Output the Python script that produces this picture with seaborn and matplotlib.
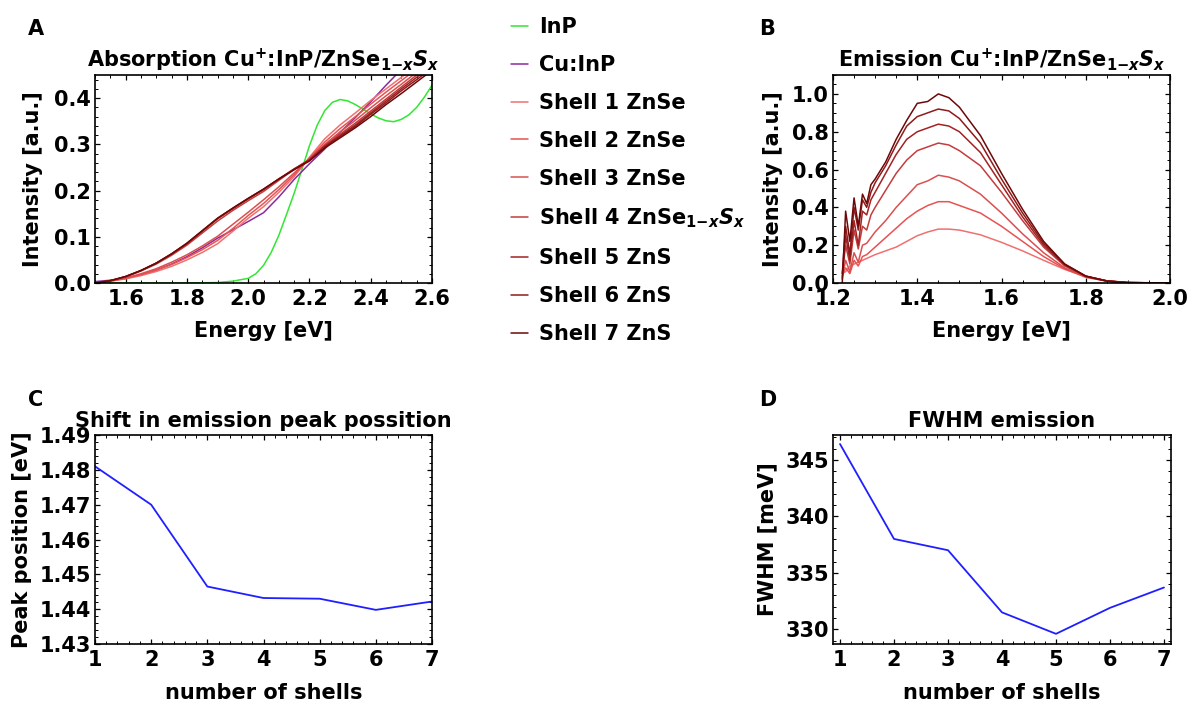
import pandas as pd
import seaborn as sns
import matplotlib.pyplot as plt
from matplotlib.ticker import MultipleLocator

sns.set_theme(style="ticks")
plt.rcParams.update({
    "font.family": ["DejaVu Sans"],
    "font.weight": "bold",
    "text.color": "black",
    "axes.labelcolor": "black",
    "axes.labelweight": "bold",
    "axes.titleweight": "bold",
    "mathtext.fontset": "custom",
    "mathtext.rm": "DejaVu Sans:bold",
    "mathtext.it": "DejaVu Sans:bold:italic",
    "mathtext.bf": "DejaVu Sans:bold",
    "axes.edgecolor": "black",
    "axes.linewidth": 1.2,
    "xtick.color": "black", "ytick.color": "black",
    "xtick.labelcolor": "black", "ytick.labelcolor": "black",
    "xtick.direction": "in", "ytick.direction": "in",
    "xtick.top": True, "ytick.right": True,
    "xtick.major.size": 3.5, "ytick.major.size": 3.5,
    "xtick.minor.size": 2, "ytick.minor.size": 2,
    "xtick.major.width": 0.9, "ytick.major.width": 0.9,
    "xtick.minor.width": 0.7, "ytick.minor.width": 0.7,
    "xtick.labelsize": 15, "ytick.labelsize": 15,
    "xtick.major.pad": 4, "ytick.major.pad": 3,
})

# ---- data ----
labels = ["InP", "Cu:InP", "Shell 1 ZnSe", "Shell 2 ZnSe", "Shell 3 ZnSe",
          r"Shell 4 ZnSe$_{\mathrm{1{-}}x}S_x$", "Shell 5 ZnS", "Shell 6 ZnS", "Shell 7 ZnS"]
inp_color = "#33e633"
cuinp_color = "#8a2b9a"
shell_colors = ["#f07070", "#e85252", "#da5050", "#c43c3c", "#a32222", "#8e1a1a", "#6e0808"]

# absorption
inp_energy = [1.50, 1.60, 1.70, 1.80, 1.90, 1.95, 2.00, 2.025, 2.05, 2.075, 2.10, 2.125, 2.15,
              2.175, 2.20, 2.225, 2.25, 2.275, 2.30, 2.325, 2.35, 2.375, 2.40, 2.425, 2.45,
              2.475, 2.50, 2.525, 2.55, 2.575, 2.60]
inp_abs = [0.000, 0.000, 0.000, 0.000, 0.001, 0.004, 0.010, 0.020, 0.038, 0.066, 0.103, 0.148, 0.194,
           0.245, 0.297, 0.341, 0.373, 0.391, 0.397, 0.394, 0.386, 0.376, 0.366, 0.357, 0.351,
           0.349, 0.354, 0.364, 0.380, 0.402, 0.428]

abs_energy = [1.50, 1.55, 1.60, 1.65, 1.70, 1.75, 1.80, 1.85, 1.90, 1.95, 2.00, 2.05,
              2.10, 2.15, 2.20, 2.25, 2.30, 2.35, 2.40, 2.45, 2.50, 2.55, 2.60]
cuinp_abs = [0.003, 0.006, 0.010, 0.018, 0.028, 0.041, 0.057, 0.076, 0.097, 0.115, 0.133, 0.152,
             0.186, 0.224, 0.258, 0.290, 0.326, 0.358, 0.392, 0.428, 0.462, 0.500, 0.540]
shell1_abs = [0.000, 0.004, 0.009, 0.016, 0.025, 0.036, 0.050, 0.066, 0.085, 0.112, 0.140, 0.165,
              0.196, 0.230, 0.272, 0.312, 0.342, 0.368, 0.395, 0.420, 0.445, 0.470, 0.495]
shell2_abs = [0.000, 0.004, 0.010, 0.018, 0.028, 0.040, 0.055, 0.072, 0.092, 0.118, 0.146, 0.172,
              0.202, 0.234, 0.270, 0.305, 0.334, 0.360, 0.387, 0.413, 0.438, 0.463, 0.488]
shell3_abs = [0.000, 0.005, 0.011, 0.020, 0.031, 0.045, 0.061, 0.080, 0.101, 0.127, 0.153, 0.180,
              0.208, 0.238, 0.268, 0.300, 0.327, 0.352, 0.379, 0.405, 0.430, 0.456, 0.482]
shell4_abs = [0.000, 0.005, 0.013, 0.026, 0.041, 0.060, 0.082, 0.108, 0.134, 0.157, 0.178, 0.198,
              0.222, 0.246, 0.268, 0.298, 0.322, 0.346, 0.372, 0.398, 0.424, 0.450, 0.476]
shell5_abs = [0.000, 0.005, 0.014, 0.027, 0.043, 0.063, 0.085, 0.112, 0.139, 0.161, 0.182, 0.202,
              0.225, 0.247, 0.266, 0.296, 0.319, 0.342, 0.368, 0.394, 0.420, 0.445, 0.470]
shell6_abs = [0.000, 0.005, 0.014, 0.027, 0.043, 0.063, 0.086, 0.113, 0.140, 0.162, 0.183, 0.203,
              0.225, 0.246, 0.265, 0.294, 0.317, 0.339, 0.365, 0.390, 0.416, 0.440, 0.465]
shell7_abs = [0.000, 0.005, 0.014, 0.027, 0.043, 0.063, 0.086, 0.113, 0.140, 0.162, 0.183, 0.203,
              0.225, 0.245, 0.264, 0.292, 0.314, 0.336, 0.360, 0.386, 0.410, 0.435, 0.460]

# emission
em_energy = [1.222, 1.23, 1.24, 1.25, 1.26, 1.27, 1.28, 1.29, 1.30, 1.325, 1.35, 1.375, 1.40,
             1.425, 1.45, 1.475, 1.50, 1.55, 1.60, 1.65, 1.70, 1.75, 1.80, 1.85, 1.90, 2.00]
shell1_em = [0.05, 0.06, 0.09, 0.10, 0.11, 0.12, 0.13, 0.14, 0.15, 0.17, 0.19, 0.22, 0.25,
             0.27, 0.285, 0.285, 0.28, 0.255, 0.215, 0.17, 0.12, 0.072, 0.035, 0.012, 0.003, 0.0]
shell2_em = [0.04, 0.08, 0.05, 0.12, 0.09, 0.14, 0.15, 0.17, 0.19, 0.24, 0.29, 0.34, 0.38,
             0.41, 0.43, 0.43, 0.41, 0.37, 0.30, 0.22, 0.14, 0.075, 0.03, 0.01, 0.002, 0.0]
shell3_em = [0.03, 0.12, 0.06, 0.16, 0.11, 0.20, 0.21, 0.24, 0.27, 0.33, 0.40, 0.46, 0.52,
             0.54, 0.57, 0.56, 0.54, 0.47, 0.37, 0.26, 0.16, 0.08, 0.032, 0.010, 0.002, 0.0]
shell4_em = [0.05, 0.20, 0.10, 0.28, 0.18, 0.30, 0.28, 0.36, 0.40, 0.49, 0.58, 0.65, 0.70,
             0.72, 0.74, 0.73, 0.70, 0.62, 0.48, 0.33, 0.19, 0.09, 0.035, 0.011, 0.002, 0.0]
shell5_em = [0.02, 0.25, 0.12, 0.33, 0.20, 0.38, 0.36, 0.44, 0.48, 0.58, 0.68, 0.76, 0.80,
             0.82, 0.84, 0.83, 0.80, 0.69, 0.52, 0.35, 0.20, 0.095, 0.036, 0.011, 0.002, 0.0]
shell6_em = [0.05, 0.30, 0.15, 0.40, 0.28, 0.44, 0.40, 0.48, 0.53, 0.62, 0.73, 0.83, 0.88,
             0.90, 0.92, 0.91, 0.87, 0.74, 0.55, 0.37, 0.21, 0.10, 0.037, 0.011, 0.002, 0.0]
shell7_em = [0.00, 0.38, 0.22, 0.45, 0.30, 0.47, 0.42, 0.52, 0.55, 0.64, 0.76, 0.86, 0.95,
             0.96, 1.00, 0.98, 0.93, 0.78, 0.58, 0.39, 0.22, 0.10, 0.036, 0.010, 0.002, 0.0]

# peak position and FWHM
n_shells = [1, 2, 3, 4, 5, 6, 7]
peak_pos = [1.4810, 1.4700, 1.4465, 1.4432, 1.4430, 1.4398, 1.4422]
fwhm = [346.4, 338.0, 337.0, 331.5, 329.6, 331.9, 333.7]

shells_abs = [shell1_abs, shell2_abs, shell3_abs, shell4_abs, shell5_abs, shell6_abs, shell7_abs]
shells_em = [shell1_em, shell2_em, shell3_em, shell4_em, shell5_em, shell6_em, shell7_em]

# ---- figure ----
W, H = 1190, 702
fig = plt.figure(figsize=(W / 100, H / 100), dpi=100)


def box(l, t, r, b):
    return [l / W, 1 - b / H, (r - l) / W, (b - t) / H]


axA = fig.add_axes(box(95, 75, 432, 283))
axB = fig.add_axes(box(833, 75, 1170, 283))
axC = fig.add_axes(box(95, 435, 432, 644))
axD = fig.add_axes(box(833, 435, 1171, 644))

lw = 1.1
sns.lineplot(x=inp_energy, y=inp_abs, ax=axA, color=inp_color, lw=lw, label=labels[0])
sns.lineplot(x=abs_energy, y=cuinp_abs, ax=axA, color=cuinp_color, lw=lw, label=labels[1])
for i, ys in enumerate(shells_abs):
    sns.lineplot(x=abs_energy, y=ys, ax=axA, color=shell_colors[i], lw=lw, label=labels[i + 2])
handles, leg_labels = axA.get_legend_handles_labels()
axA.get_legend().remove()

for i, ys in enumerate(shells_em):
    sns.lineplot(x=em_energy, y=ys, ax=axB, color=shell_colors[i], lw=lw)

sns.lineplot(x=n_shells, y=peak_pos, ax=axC, color="#1f1fff", lw=1.3)
sns.lineplot(x=n_shells, y=fwhm, ax=axD, color="#1f1fff", lw=1.3)

title_a = r"Absorption Cu$^{\mathrm{+}}$:InP/ZnSe$_{\mathrm{1{-}}x}S_x$"
title_b = r"Emission Cu$^{\mathrm{+}}$:InP/ZnSe$_{\mathrm{1{-}}x}S_x$"

axA.set(xlim=(1.5, 2.6), ylim=(0, 0.45))
axA.xaxis.set_major_locator(MultipleLocator(0.2))
axA.xaxis.set_minor_locator(MultipleLocator(0.05))
axA.yaxis.set_major_locator(MultipleLocator(0.1))
axA.yaxis.set_minor_locator(MultipleLocator(0.02))
axA.set_title(title_a, fontsize=15, pad=6)

axB.set(xlim=(1.2, 2.0), ylim=(0, 1.1))
axB.xaxis.set_major_locator(MultipleLocator(0.2))
axB.xaxis.set_minor_locator(MultipleLocator(0.05))
axB.yaxis.set_major_locator(MultipleLocator(0.2))
axB.yaxis.set_minor_locator(MultipleLocator(0.05))
axB.set_title(title_b, fontsize=15, pad=6)

axC.set(xlim=(1, 7), ylim=(1.43, 1.49))
axC.xaxis.set_major_locator(MultipleLocator(1))
axC.xaxis.set_minor_locator(MultipleLocator(0.2))
axC.yaxis.set_major_locator(MultipleLocator(0.01))
axC.yaxis.set_minor_locator(MultipleLocator(0.002))
axC.set_title("Shift in emission peak possition", fontsize=15, pad=6)

axD.set(xlim=(0.87, 7.13), ylim=(328.7, 347.2))
axD.xaxis.set_major_locator(MultipleLocator(1))
axD.xaxis.set_minor_locator(MultipleLocator(0.2))
axD.yaxis.set_major_locator(MultipleLocator(5))
axD.yaxis.set_minor_locator(MultipleLocator(1))
axD.set_title("FWHM emission", fontsize=15, pad=6)

for ax, xl, yl, ylx in [(axA, "Energy [eV]", "Intensity [a.u.]", -0.154),
                        (axB, "Energy [eV]", "Intensity [a.u.]", -0.148),
                        (axC, "number of shells", "Peak position [eV]", -0.187),
                        (axD, "number of shells", "FWHM [meV]", -0.166)]:
    ax.set_xlabel(xl, fontsize=15)
    ax.set_ylabel(yl, fontsize=15)
    ax.xaxis.set_label_coords(0.5, -0.185)
    ax.yaxis.set_label_coords(ylx, 0.5)
    ax.tick_params(which="both", top=True, right=True, direction="in")
    for s in ax.spines.values():
        s.set_color("black")

for letter, x, y in [("A", 36, 29), ("B", 767, 29), ("C", 36, 400), ("D", 768, 400)]:
    fig.text(x / W, 1 - y / H, letter, fontsize=15, fontweight="bold", ha="center", va="center")

fig.legend(handles, leg_labels, loc="upper left", bbox_to_anchor=(511 / W, 1 - 17 / H),
           frameon=False, fontsize=15, handlelength=0.8, handletextpad=0.55,
           labelspacing=0.86, borderpad=0, borderaxespad=0)

fig.savefig("out.png", dpi=100)
